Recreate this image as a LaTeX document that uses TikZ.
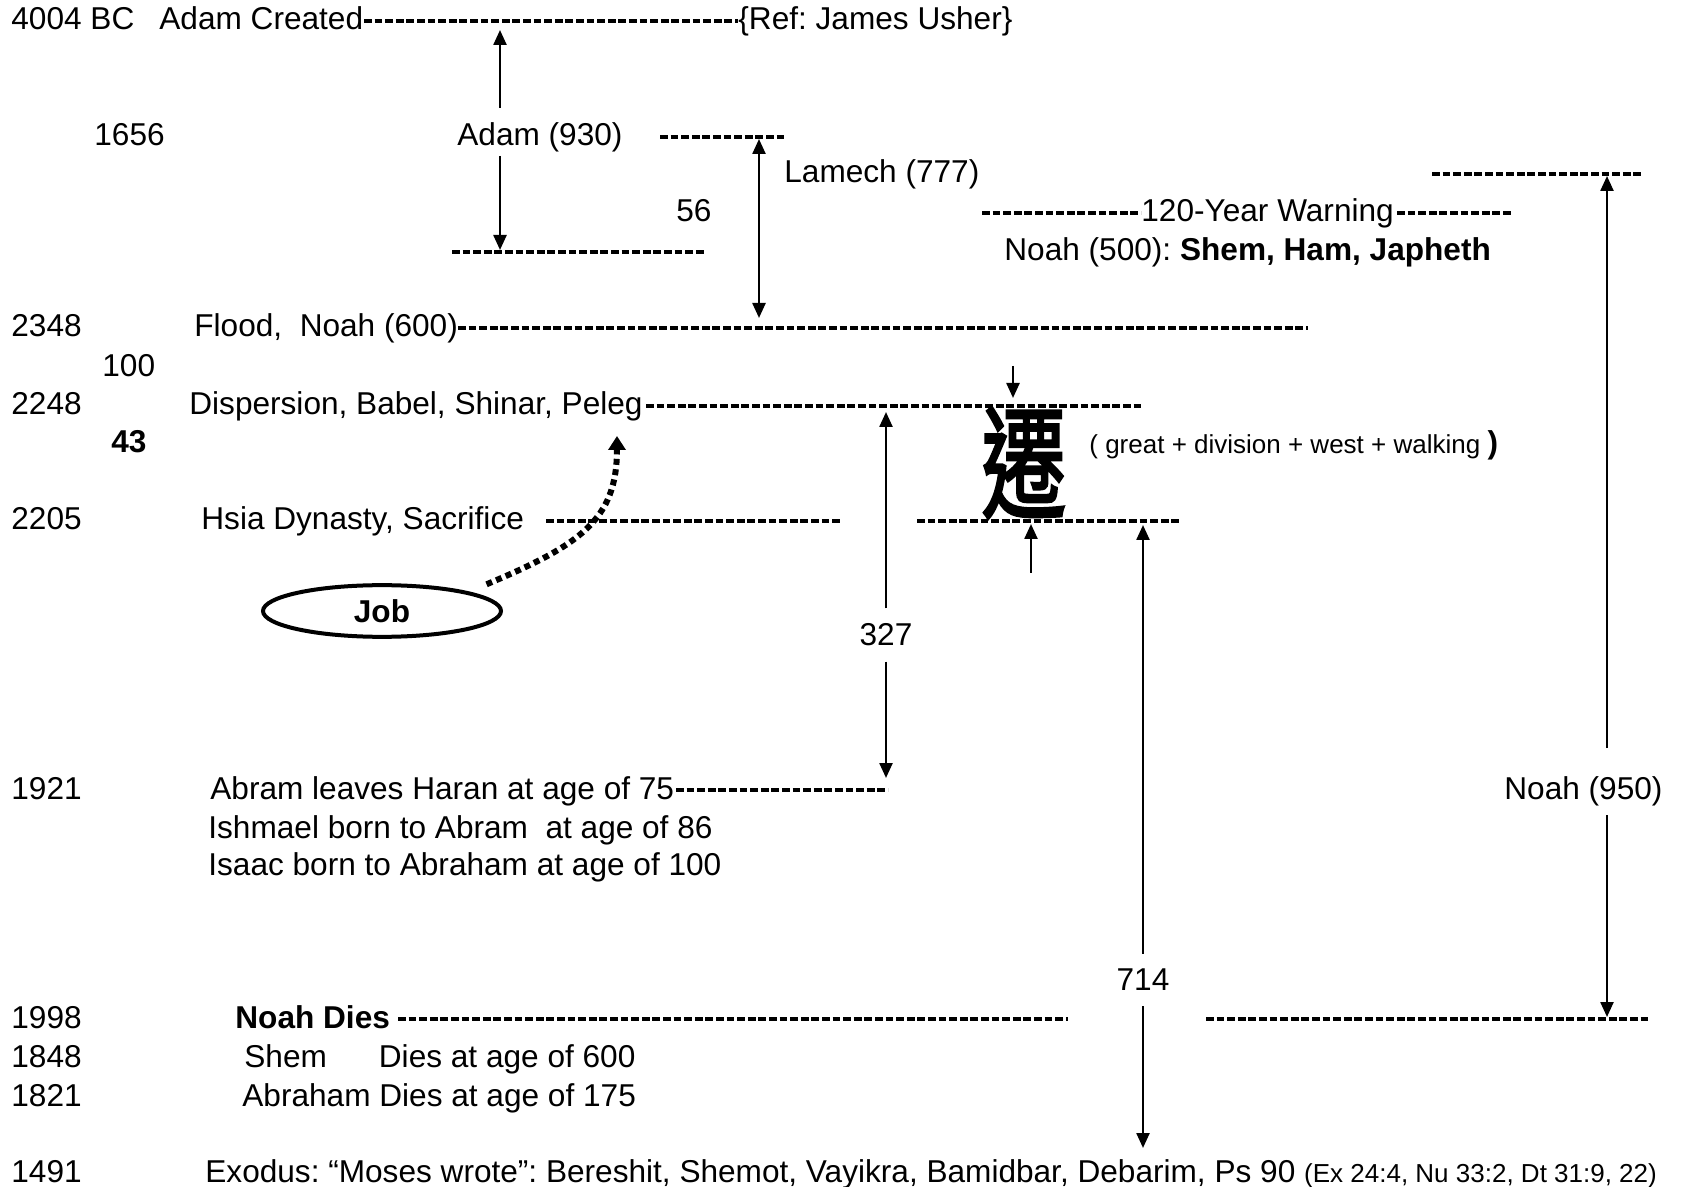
\documentclass[tikz,border=0pt]{standalone}
\usepackage{fontspec}
\setmainfont{Liberation Sans}
\newfontfamily\cjk{Noto Sans CJK TC}[FakeBold=2.5]
\usetikzlibrary{arrows.meta, shapes.geometric}
\frenchspacing

\newcommand{\bigf}{\fontsize{15.8}{19}\selectfont}
\newcommand{\smallf}{\fontsize{13}{16}\selectfont}

\tikzset{
  txt/.style={anchor=base west, inner sep=0pt, font=\bigf},
  lbl/.style={inner xsep=0pt, inner ysep=7.5pt, font=\bigf},
  dashline/.style={line width=1.7pt, dash pattern=on 3.9pt off 1.4pt},
  arr/.style={-{Triangle[length=7.5pt,width=6.5pt]}, line width=1.2pt},
  darr/.style={{Triangle[length=7.5pt,width=6.5pt]}-{Triangle[length=7.5pt,width=6.5pt]}, line width=1.2pt},
  dotarr/.style={line width=3pt, dash pattern=on 3pt off 2.2pt, -{Triangle[length=7pt,width=8.5pt]}},
}

\begin{document}
\begin{tikzpicture}[x=0.5pt, y=-0.5pt]
\useasboundingbox (0,0) rectangle (1688,1187);

% years
\node[txt] (y4004) at (11,30) {4004 BC};
\node[txt] (y1656) at (94,146) {1656};
\node[txt] (y2348) at (11,337) {2348};
\node[txt] (g100) at (102,377) {100};
\node[txt] (y2248) at (11,415) {2248};
\node[txt, font=\bigf\bfseries] (g43) at (111,453) {43};
\node[txt] (y2205) at (11,530) {2205};
\node[txt] (y1921) at (11,799) {1921};
\node[txt] (y1998) at (11,1028) {1998};
\node[txt] (y1848) at (11,1067) {1848};
\node[txt] (y1821) at (11,1106) {1821};
\node[txt] (y1491) at (11,1182) {1491};

% events
\node[txt] (adamc) at (159,30) {Adam Created};
\node[txt] (usher) at (738,30) {\{Ref: James Usher\}};
\node[txt] (adam) at (457,146) {Adam (930)};
\node[txt] (lamech) at (784,183) {Lamech (777)};
\node[txt] (g56) at (676,222) {56};
\node[txt] (warn) at (1141,222) {120-Year Warning};
\node[txt] (noah500) at (1004,261) {Noah (500): \textbf{Shem, Ham, Japheth}};
\node[txt] (flood) at (194,337) {Flood,\ \ Noah (600)};
\node[txt] (disp) at (189,415) {Dispersion, Babel, Shinar, Peleg};
\node[txt, font=\smallf] (parts) at (1089,454) {( great + division + west + walking {\bigf\bfseries )}};
\node[txt] (hsia) at (201,530) {Hsia Dynasty, Sacrifice};
\node[txt] (abram) at (210,799) {Abram leaves Haran at age of 75};
\node[txt] (ishmael) at (208,838) {Ishmael born to Abram\ \ at age of 86};
\node[txt] (isaac) at (208,875) {Isaac born to Abraham at age of 100};
\node[txt, font=\bigf\bfseries] (noahd) at (235,1028) {Noah Dies};
\node[txt] (shem) at (244,1067) {Shem\hspace{26pt}Dies at age of 600};
\node[txt] (abrahamd) at (242,1106) {Abraham Dies at age of 175};
\node[txt] (exodus) at (205,1182) {Exodus: “Moses wrote”: Bereshit, Shemot, Vayikra, Bamidbar, Debarim, Ps 90 {\smallf(Ex 24:4, Nu 33:2, Dt 31:9, 22)}};
\node[txt] (noah950) at (1504,799) {Noah (950)};
\node[lbl] (n327) at (886,635) {327};
\node[lbl] (n714) at (1143,980) {714};

% qian
\node[inner sep=0pt] (qian) at (1024,463) {\scalebox{0.85}[1.22]{\cjk\fontsize{50}{50}\selectfont 遷}};
\node[ellipse, draw, line width=2pt, minimum width=119pt, minimum height=20.5pt, font=\bigf\bfseries] (job) at (382,611) {Job};

% dashed lines
\draw[dashline] (364,21) -- (738,21);
\draw[dashline] (660,137) -- (786,137);
\draw[dashline] (452,252) -- (705,252);
\draw[dashline] (1432,174) -- (1642,174);
\draw[dashline] (982,213) -- (1141,213);
\draw[dashline] (1397,213) -- (1512,213);
\draw[dashline] (458,328) -- (1308,328);
\draw[dashline] (646,406) -- (1144,406);
\draw[dashline] (546,521) -- (840,521);
\draw[dashline] (917,521) -- (1179,521);
\draw[dashline] (676,790) -- (888,790);
\draw[dashline] (398,1019) -- (1068,1019);
\draw[dashline] (1206,1019) -- (1650,1019);

% arrows
\coordinate (adamTop) at (500,30);
\coordinate (adamUp) at (500,108);
\coordinate (adamDown) at (500,156);
\coordinate (adamBot) at (500,250);
\draw[arr] (adamUp) -- (adamTop);
\draw[arr] (adamDown) -- (adamBot);

\coordinate (lamTop) at (759,139);
\coordinate (lamBot) at (759,318);
\draw[darr] (lamTop) -- (lamBot);

\coordinate (n950Top) at (1607,176);
\coordinate (n950Up) at (1607,748);
\coordinate (n950Down) at (1607,815);
\coordinate (n950Bot) at (1607,1017);
\draw[arr] (n950Up) -- (n950Top);
\draw[arr] (n950Down) -- (n950Bot);

\coordinate (t327) at (886,412);
\coordinate (b327) at (886,778);
\draw[arr] (n327.north) -- (t327);
\draw[arr] (n327.south) -- (b327);

\coordinate (t714) at (1143,525);
\coordinate (b714) at (1143,1148);
\draw[arr] (n714.north) -- (t714);
\draw[arr] (n714.south) -- (b714);

\coordinate (qianA) at (1013,366);
\coordinate (qianB) at (1013,398);
\coordinate (qianC) at (1031,573);
\coordinate (qianD) at (1031,524);
\draw[arr] (qianA) -- (qianB);
\draw[arr] (qianC) -- (qianD);

% Job
\coordinate (pelegPt) at (617,436);
\draw[dotarr] ([shift={(19,-7)}]job.north east) .. controls (580,545) and (617,520) .. (pelegPt);
\end{tikzpicture}
\end{document}
